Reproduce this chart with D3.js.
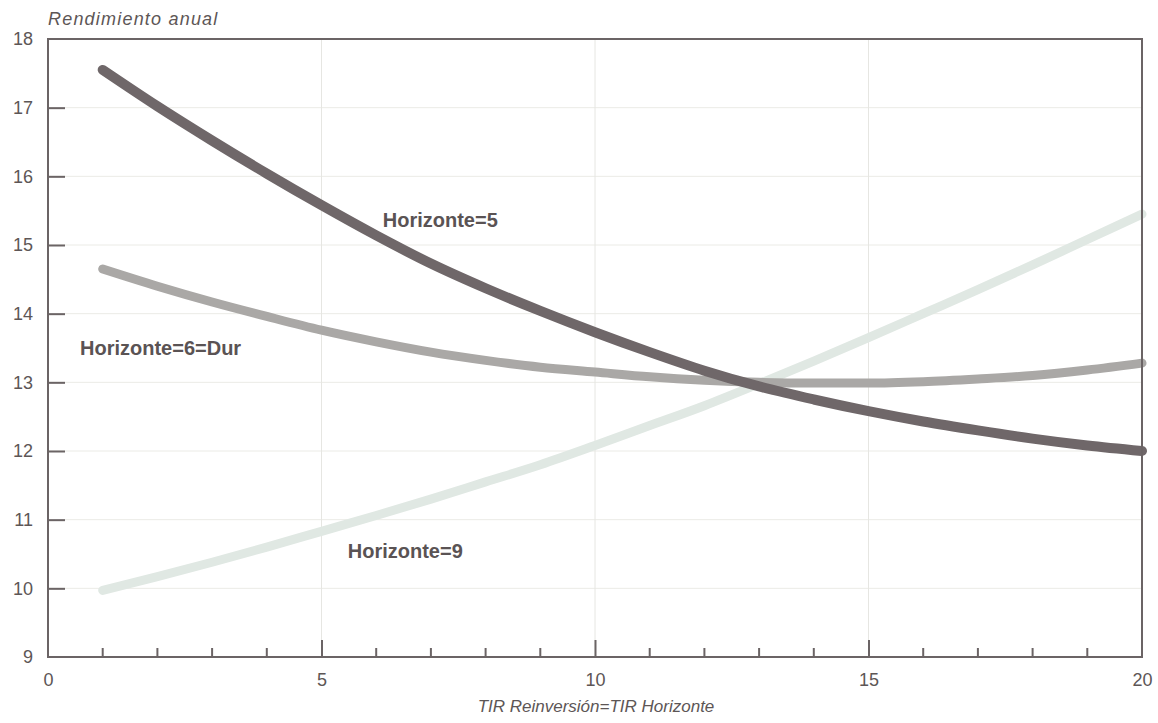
<!DOCTYPE html>
<html><head><meta charset="utf-8">
<script src="https://cdn.jsdelivr.net/npm/d3@7"></script>
<style>body{margin:0;background:#fff}svg{display:block}</style>
</head><body><svg id="c" width="1158" height="723"></svg>
<script>
const xValues = [1,2,3,4,5,6,7,8,9,10,11,12,13,14,15,16,17,18,19,20];
const horizonte5 = [17.55,17.02,16.52,16.04,15.58,15.14,14.73,14.37,14.04,13.73,13.44,13.17,12.94,12.75,12.58,12.43,12.30,12.18,12.08,12.00];
const horizonte6 = [14.65,14.40,14.17,13.96,13.76,13.59,13.44,13.32,13.22,13.15,13.08,13.03,13.00,12.99,12.99,13.01,13.05,13.10,13.18,13.28];
const horizonte9 = [9.97,10.17,10.38,10.60,10.83,11.06,11.30,11.55,11.80,12.08,12.37,12.66,12.98,13.31,13.65,14.00,14.35,14.71,15.08,15.45];
const seriesNames = ["Horizonte=5","Horizonte=6=Dur","Horizonte=9"];
const yTicks = [9,10,11,12,13,14,15,16,17,18];
const xTicks = [0,5,10,15,20];
const xMinor = [1,2,3,4,6,7,8,9,11,12,13,14,16,17,18,19];
const yTitle = "Rendimiento anual";
const xTitle = "TIR Reinversión=TIR Horizonte";

const svg = d3.select("#c");
const L=48, R=1142, T=39, B=657;
const x = d3.scaleLinear().domain([0,20]).range([L,R]);
const y = d3.scaleLinear().domain([9,18]).range([B,T]);
const axisCol = "#6b6465", textCol = "#5d5656", font = "'Liberation Sans', Arial, sans-serif";

// gridlines
svg.append("g").selectAll("line").data(yTicks.slice(1,-1)).join("line")
  .attr("x1",L).attr("x2",R).attr("y1",d=>y(d)).attr("y2",d=>y(d))
  .attr("stroke","#ebebe6").attr("stroke-width",1);
svg.append("g").selectAll("line").data(xTicks.slice(1,-1)).join("line")
  .attr("x1",d=>x(d)).attr("x2",d=>x(d)).attr("y1",T).attr("y2",B)
  .attr("stroke","#e6e6e2").attr("stroke-width",1);

// series
const line = d3.line().x((d,i)=>x(xValues[i])).y(d=>y(d)).curve(d3.curveMonotoneX);
const series = [
  {v: horizonte9, c:"#e0e8e3", w:9},
  {v: horizonte6, c:"#aaa8a6", w:9},
  {v: horizonte5, c:"#6f6769", w:10}
];
series.forEach(s=>{
  svg.append("path").attr("d",line(s.v)).attr("fill","none").attr("stroke",s.c)
    .attr("stroke-width",s.w).attr("stroke-linecap","round").attr("stroke-linejoin","round");
});

// frame
svg.append("rect").attr("x",L).attr("y",T).attr("width",R-L).attr("height",B-T)
  .attr("fill","none").attr("stroke",axisCol).attr("stroke-width",2);

// y axis
const yAxis = d3.axisLeft(y).tickValues(yTicks).tickSize(-17).tickPadding(15).tickFormat(d3.format("d"));
const gy = svg.append("g").attr("transform",`translate(${L},0)`).call(yAxis);
gy.select(".domain").remove();
gy.selectAll(".tick line").attr("stroke",axisCol).attr("stroke-width",2);
gy.selectAll(".tick").filter(d=>d===9||d===18).select("line").remove();
gy.selectAll("text").attr("fill",textCol).attr("font-size",18).attr("font-family",font);

// x axis major
const xAxis = d3.axisBottom(x).tickValues(xTicks).tickSize(-17).tickPadding(16).tickFormat(d3.format("d"));
const gx = svg.append("g").attr("transform",`translate(0,${B})`).call(xAxis);
gx.select(".domain").remove();
gx.selectAll(".tick line").attr("stroke",axisCol).attr("stroke-width",2);
gx.selectAll(".tick").filter(d=>d===0||d===20).select("line").remove();
gx.selectAll("text").attr("fill",textCol).attr("font-size",18).attr("font-family",font);
// x minor
svg.append("g").selectAll("line").data(xMinor).join("line")
  .attr("x1",d=>x(d)).attr("x2",d=>x(d)).attr("y1",B).attr("y2",B-9)
  .attr("stroke",axisCol).attr("stroke-width",2);

// titles
svg.append("text").attr("x",L).attr("y",25).text(yTitle)
  .attr("font-style","italic").attr("font-size",18).attr("letter-spacing",1.2)
  .attr("fill",textCol).attr("font-family",font);
svg.append("text").attr("x",596).attr("y",712).attr("text-anchor","middle").text(xTitle)
  .attr("font-style","italic").attr("font-size",17).attr("fill",textCol).attr("font-family",font);

// series labels
const labelPos = [[6.12,15.26],[0.585,13.40],[5.48,10.44]];
seriesNames.forEach((n,i)=>{
  svg.append("text").attr("x",x(labelPos[i][0])).attr("y",y(labelPos[i][1])).text(n)
    .attr("font-weight","bold").attr("font-size",20).attr("fill","#5a5354").attr("font-family",font);
});
</script></body></html>
